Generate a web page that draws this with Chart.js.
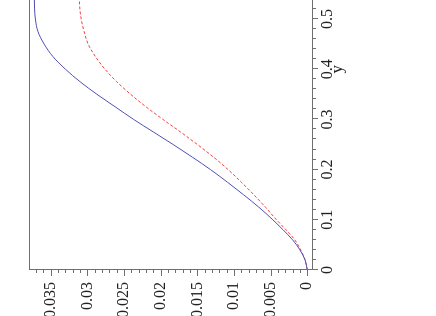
<!DOCTYPE html>
<html>
<head>
<meta charset="utf-8">
<script src="https://cdn.jsdelivr.net/npm/chart.js@4"></script>
<style>
  html, body { margin: 0; padding: 0; background: #fff; overflow: hidden; }
  body { width: 436px; height: 316px; position: relative; }
  /* the plot is drawn upright, then turned a quarter turn counter-clockwise */
  #wrap {
    position: absolute; left: 60px; top: -60px;
    width: 316px; height: 436px;
    transform: rotate(-90deg);
  }
</style>
</head>
<body>
<div id="wrap"><canvas id="plot" width="316" height="436"></canvas></div>
<script>
'use strict';

// y values along the horizontal axis (before turning)
const yVals = [0, 0.02, 0.04, 0.06, 0.08, 0.1, 0.125, 0.15, 0.175, 0.2, 0.225, 0.25,
               0.275, 0.3, 0.325, 0.35, 0.375, 0.4, 0.425, 0.45, 0.475, 0.5, 0.52, 0.538];

// solid (blue) curve
const solidVals = [0, 0.0003, 0.0010, 0.0020, 0.0033, 0.0047, 0.0066, 0.0087, 0.0109, 0.0132,
                   0.0157, 0.0183, 0.0210, 0.0237, 0.0262, 0.0287, 0.0310, 0.0330, 0.0347,
                   0.0359, 0.03675, 0.0371, 0.03721, 0.03724];

// dashed (red) curve
const dashedVals = [0, 0.0003, 0.0009, 0.0017, 0.0029, 0.0042, 0.0057, 0.0073, 0.0090, 0.0108,
                    0.0128, 0.0150, 0.0173, 0.0197, 0.0220, 0.0241, 0.0260, 0.0276, 0.0289,
                    0.0299, 0.03045, 0.03085, 0.03103, 0.03111];

const yTicks     = [0, 0.1, 0.2, 0.3, 0.4, 0.5];
const valueTicks = [0, 0.005, 0.01, 0.015, 0.02, 0.025, 0.03, 0.035];
const yMinorStep = 0.02;
const valueMinorStep = 0.001;

const AXIS_COLOR = '#6f6f6f';
const FONT = "'Liberation Serif', 'Times New Roman', serif";

const toPoints = vals => vals.map((v, i) => ({ x: yVals[i], y: v }));

// Maple-like axes: box lines plus major/minor tick marks and the "y" label
const mapleAxes = {
  id: 'mapleAxes',
  afterDatasetsDraw(chart) {
    const { ctx, chartArea: a, scales: { x, y } } = chart;
    ctx.save();
    ctx.strokeStyle = AXIS_COLOR;
    ctx.lineWidth = 1;
    ctx.beginPath();
    ctx.moveTo(a.left + 0.5, a.top);      ctx.lineTo(a.left + 0.5, a.bottom);
    ctx.moveTo(a.left, a.bottom - 0.5);   ctx.lineTo(a.right, a.bottom - 0.5);
    ctx.moveTo(a.left, a.top + 0.5);      ctx.lineTo(a.right, a.top + 0.5);

    for (let v = 0; v <= x.max + 1e-9; v += yMinorStep) {
      const px = Math.round(x.getPixelForValue(v)) + 0.5;
      const major = yTicks.some(t => Math.abs(t - v) < 1e-6);
      ctx.moveTo(px, a.bottom);
      ctx.lineTo(px, a.bottom + (major ? 5 : 3));
    }
    for (let v = 0; v <= y.max + 1e-9; v += valueMinorStep) {
      const py = Math.round(y.getPixelForValue(v)) + 0.5;
      const major = valueTicks.some(t => Math.abs(t - v) < 1e-7);
      ctx.moveTo(a.left, py);
      ctx.lineTo(a.left - (major ? 6 : 3), py);
    }
    ctx.stroke();

    ctx.fillStyle = '#222';
    ctx.font = '17px ' + FONT;
    ctx.textAlign = 'center';
    ctx.textBaseline = 'alphabetic';
    ctx.fillText('y', x.getPixelForValue(0.4), a.bottom + 29);
    ctx.restore();
  }
};

new Chart(document.getElementById('plot'), {
  type: 'line',
  data: {
    datasets: [
      {
        label: 'solid',
        data: toPoints(solidVals),
        borderColor: '#4f4fb4',
        borderWidth: 1,
        pointRadius: 0,
        cubicInterpolationMode: 'monotone',
        fill: false,
      },
      {
        label: 'dashed',
        data: toPoints(dashedVals),
        borderColor: '#ff3b3b',
        borderWidth: 1,
        borderDash: [3, 2],
        pointRadius: 0,
        cubicInterpolationMode: 'monotone',
        fill: false,
      },
    ]
  },
  plugins: [mapleAxes],
  options: {
    responsive: false,
    animation: false,
    layout: { padding: { top: 29, right: 0, left: 0, bottom: 0 } },
    plugins: { legend: { display: false }, tooltip: { enabled: false } },
    scales: {
      x: {
        type: 'linear',
        min: 0, max: 0.5378,
        afterFit: s => { s.height = 123; },
        afterBuildTicks: s => { s.ticks = yTicks.map(v => ({ value: v })); },
        grid: { display: false, drawTicks: false },
        border: { display: false },
        ticks: {
          padding: 5,
          color: '#222',
          font: { family: FONT, size: 16 },
          maxRotation: 0,
          callback: v => String(v),
        },
      },
      y: {
        type: 'linear',
        min: -0.00078, max: 0.03797,
        afterFit: s => { s.width = 46; },
        afterBuildTicks: s => { s.ticks = valueTicks.map(v => ({ value: v })); },
        grid: { display: false, drawTicks: false },
        border: { display: false },
        ticks: {
          padding: 12,
          color: '#222',
          font: { family: FONT, size: 16 },
          callback: v => String(+v.toFixed(3)),
        },
      },
    }
  }
});
</script>
</body>
</html>
